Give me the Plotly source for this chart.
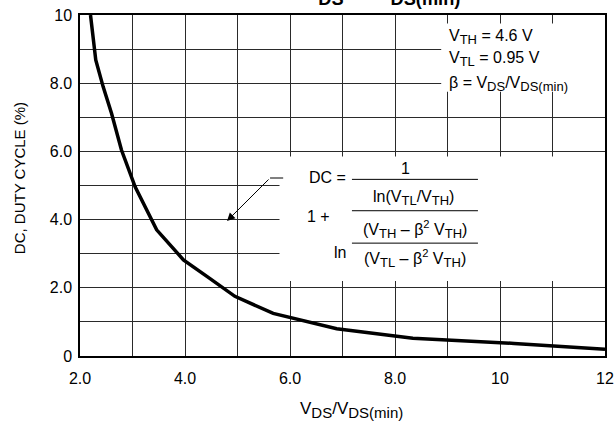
import plotly.graph_objects as go

# curve (VDS/VDS(min) vs duty cycle in %)
vds_ratio = [2.2, 2.3, 2.44, 2.6, 2.79, 3.05, 3.46, 3.97, 4.45, 4.95, 5.68, 6.2, 6.89, 8.34, 9.81, 10.27, 12.0]
duty_cycle = [10.0, 8.68, 7.9, 7.12, 6.04, 4.96, 3.7, 2.82, 2.3, 1.75, 1.25, 1.05, 0.8, 0.52, 0.42, 0.37, 0.2]

x_ticks = [2, 3, 4, 5, 6, 7, 8, 9, 10, 11, 12]
x_labels = ["2.0", "", "4.0", "", "6.0", "", "8.0", "", "10", "", "12"]
y_ticks = [0, 1, 2, 3, 4, 5, 6, 7, 8, 9, 10]
y_labels = ["0", "", "2.0", "", "4.0", "", "6.0", "", "8.0", "", "10"]

FONT = "Liberation Sans, Arial, Helvetica, sans-serif"

fig = go.Figure()
fig.add_trace(
    go.Scatter(
        x=vds_ratio,
        y=duty_cycle,
        mode="lines",
        line=dict(color="black", width=3.5),
        showlegend=False,
        hoverinfo="skip",
    )
)

# white patches that break the grid behind the text blocks
for x0, x1, y0, y1 in [(8.88, 12, 7.75, 9.75), (5.8, 12, 2.2, 5.85)]:
    fig.add_shape(type="rect", x0=x0, x1=x1, y0=y0, y1=y1, xref="x", yref="y",
                  fillcolor="white", line_width=0, layer="between")

# fraction bars of the formula
for yb in [5.18, 4.26, 3.31]:
    fig.add_shape(type="line", x0=7.18, x1=9.58, y0=yb, y1=yb, xref="x", yref="y",
                  line=dict(color="black", width=1))

# little stub of the leader line
fig.add_shape(type="line", x0=5.62, x1=5.87, y0=5.22, y1=5.22, xref="x", yref="y",
              line=dict(color="black", width=1))
fig.add_annotation(x=4.8, y=3.96, ax=5.62, ay=5.22, axref="x", ayref="y", xref="x", yref="y",
                   text="", showarrow=True, arrowhead=2, arrowsize=1.6, arrowwidth=1, arrowcolor="black")

SUB = "<sub><span style='font-size:13px'>{}</span></sub>"
SUB_BIG = "<sub><span style='font-size:15px'>{}</span></sub>"

notes = [
    (8.99, 9.35, "V" + SUB.format("TH") + " = 4.6 V", "left"),
    (8.99, 8.7, "V" + SUB.format("TL") + " = 0.95 V", "left"),
    (8.99, 7.98, "β = V" + SUB.format("DS") + "/V" + SUB.format("DS(min)"), "left"),
    (7.10, 5.23, "DC =", "right"),
    (8.20, 5.5, "1", "center"),
    (8.36, 4.62, "ln(V" + SUB.format("TL") + "/V" + SUB.format("TH") + ")", "center"),
    (6.55, 4.08, "1 +", "center"),
    (8.38, 3.72, "(V" + SUB.format("TH") + " – β<sup>2</sup> V" + SUB.format("TH") + ")", "center"),
    (6.95, 3.05, "ln", "center"),
    (8.38, 2.85, "(V" + SUB.format("TL") + " – β<sup>2</sup> V" + SUB.format("TH") + ")", "center"),
]
for x, y, txt, anchor in notes:
    fig.add_annotation(x=x, y=y, xref="x", yref="y", text=txt, showarrow=False,
                       xanchor=anchor, yanchor="middle", font=dict(size=16, color="black"))

# title, mostly cut off at the top of the page
fig.add_annotation(x=0.572, y=1.066, xref="paper", yref="paper", showarrow=False,
                   text="<b>V<sub>DS</sub> = V<sub>DS(min)</sub></b>",
                   xanchor="center", yanchor="middle", font=dict(size=26, color="black"))

# axis titles
fig.add_annotation(x=0.518, y=-0.158, xref="paper", yref="paper", showarrow=False,
                   text="V" + SUB_BIG.format("DS") + "/V" + SUB_BIG.format("DS(min)"),
                   xanchor="center", yanchor="middle", font=dict(size=17, color="black"))
fig.add_annotation(x=-0.114, y=0.522, xref="paper", yref="paper", showarrow=False,
                   text="DC, DUTY CYCLE (%)", textangle=-90,
                   xanchor="center", yanchor="middle", font=dict(size=15, color="black"))

fig.update_xaxes(
    range=[2, 12], tickvals=x_ticks, ticktext=x_labels, ticks="", ticklabelstandoff=7,
    showgrid=True, gridcolor="#2a2a2a", gridwidth=1, zeroline=False, automargin=False,
    showline=True, linecolor="black", linewidth=1.5, mirror=True,
)
fig.update_yaxes(
    range=[0, 10], tickvals=y_ticks, ticktext=y_labels, ticks="", ticklabelstandoff=3,
    showgrid=True, gridcolor="#2a2a2a", gridwidth=1, zeroline=False, automargin=False,
    showline=True, linecolor="black", linewidth=1.5, mirror=True,
)
fig.update_layout(
    width=614, height=423,
    margin=dict(l=80, r=9, t=15, b=67, autoexpand=False),
    plot_bgcolor="white", paper_bgcolor="white",
    font=dict(family=FONT, size=16, color="black"),
    showlegend=False,
)
# drop the page's default body margin so the figure sits at the window's corner
fig.write_html("out.html", config={"displayModeBar": False},
               post_script="document.body.style.margin = '0';")
